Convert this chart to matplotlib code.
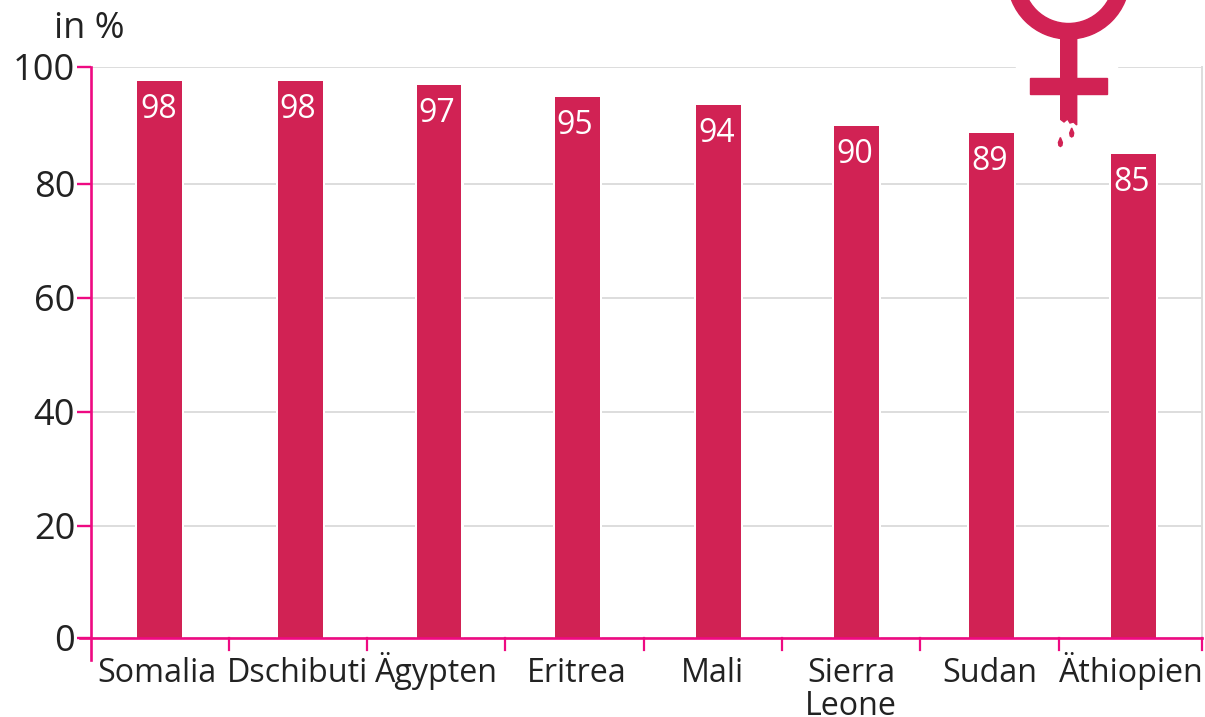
#!/usr/bin/env python3
"""Bar chart: share of affected women per country, with a female symbol on top."""

import matplotlib

matplotlib.use("Agg")
import matplotlib.pyplot as plt
from matplotlib.patches import Polygon, Rectangle, Wedge

W, H = 1205, 717

countries = ["Somalia", "Dschibuti", "Ägypten", "Eritrea", "Mali", "Sierra\nLeone", "Sudan", "Äthiopien"]
bar_values = [97.5, 97.5, 96.7, 94.7, 93.2, 89.5, 88.4, 84.7]
bar_labels = ["98", "98", "97", "95", "94", "90", "89", "85"]
# bars and their numbers do not sit exactly in the middle of their slots
bar_nudge = [0.0, 0.02, 0.02, 0.02, 0.04, 0.04, 0.015, 0.04]
label_nudge = [-0.005, 0.0, 0.0, 0.0, 0.03, 0.025, 0.0, 0.025]
name_nudge = [-0.02, 0.0, 0.005, 0.015, 0.0, 0.0, 0.0, 0.025]
y_labels = ["0", "20", "40", "60", "80", "100"]
# the middle gridlines sit a little below their nominal values in the original
y_tick_pos = [0, 19.6, 39.5, 59.5, 79.5, 100]

BAR_RED = "#D12254"
AXIS_PINK = "#EE0A82"
GRID = "#DDDDDD"
TEXT = "#222222"

plt.rcParams["font.family"] = ["Open Sans", "DejaVu Sans"]

fig = plt.figure(figsize=(W / 100, H / 100), dpi=100)

# plot area from the pixel positions of the axes
left, right, top, bottom = 90.5, 1202.0, 66.5, 637.5
ax = fig.add_axes([left / W, 1 - bottom / H, (right - left) / W, (bottom - top) / H])
slot = 138.3
ax.set_xlim(-0.5, -0.5 + (right - left) / slot)
ax.set_ylim(0, 100)

for s in ["top", "left", "bottom"]:
    ax.spines[s].set_visible(False)
ax.spines["right"].set_color(GRID)
ax.spines["right"].set_linewidth(1.4)

ax.set_yticks(y_tick_pos)
ax.set_yticklabels(y_labels, fontsize=26, color=TEXT)
ax.tick_params(axis="y", length=10, width=1.7, color=AXIS_PINK, pad=1)
ax.set_xticks([])
ax.grid(axis="y", color=GRID, linewidth=1.4)
ax.set_axisbelow(True)

xs = [i + n for i, n in enumerate(bar_nudge)]
# white halo keeps the gridlines off the bars
ax.bar(xs, bar_values, width=49 / slot, color="white", zorder=1.5)
ax.bar(xs, bar_values, width=44.5 / slot, color=BAR_RED, zorder=2)
for i, (v, lab) in enumerate(zip(bar_values, bar_labels)):
    ax.annotate(lab, (i + label_nudge[i], v), xytext=(0, -8.5), textcoords="offset points", ha="center",
                va="top", color="white", fontsize=23, zorder=3)

# pink axis lines and ticks, drawn over the bars
trans = ax.get_xaxis_transform()
ax.plot([-0.5, -0.5], [1, -22 / 571], transform=trans, color=AXIS_PINK, lw=1.9, clip_on=False, zorder=4)
ax.plot([-0.5 - 11 / slot, ax.get_xlim()[1]], [0, 0], transform=trans, color=AXIS_PINK, lw=1.9,
        clip_on=False, zorder=4)
for tx in [i + 0.5 for i in range(len(countries) - 1)] + [ax.get_xlim()[1]]:
    ax.plot([tx, tx], [0, -12 / 571], transform=trans, color=AXIS_PINK, lw=1.6, clip_on=False, zorder=4)

for i, name in enumerate(countries):
    for j, line in enumerate(name.split("\n")):
        ax.annotate(line, (i + name_nudge[i], 0), xycoords=trans, xytext=(0, -32 - j * 23.5),
                    textcoords="offset points", ha="center", va="baseline", fontsize=23.2, color=TEXT,
                    annotation_clip=False)

# overlay in pixel coordinates for the unit label and the symbol
ov = fig.add_axes([0, 0, 1, 1], facecolor="none")
ov.set_xlim(0, W)
ov.set_ylim(H, 0)
ov.axis("off")

ov.text(54, 38, "in %", fontsize=26, color=TEXT, ha="left", va="baseline")

ov.add_patch(Rectangle((1016, -2), 101, 72, color="white", zorder=1))
cx, cy = 1068.5, -22
ov.add_patch(Wedge((cx, cy), 61, 0, 360, width=15.5, color=BAR_RED, zorder=2))
ov.add_patch(Polygon([(1060.7, 35), (1076.7, 35), (1076.7, 125), (1073.5, 122), (1070, 123), (1067.5, 119),
                      (1064, 122), (1062, 120.5), (1060.7, 119.5)], color=BAR_RED, zorder=2))
ov.add_patch(Rectangle((1029.7, 77.7), 77.6, 16, color=BAR_RED, zorder=2))
for dx, dy in [(1071.7, 128), (1060.4, 137.5)]:
    ov.add_patch(Polygon([(dx, dy), (dx + 2, dy + 5), (dx + 1.5, dy + 8), (dx, dy + 9), (dx - 1.5, dy + 8),
                          (dx - 2, dy + 5)], color=BAR_RED, zorder=2))

fig.savefig("out.png", dpi=100)
plt.close(fig)
